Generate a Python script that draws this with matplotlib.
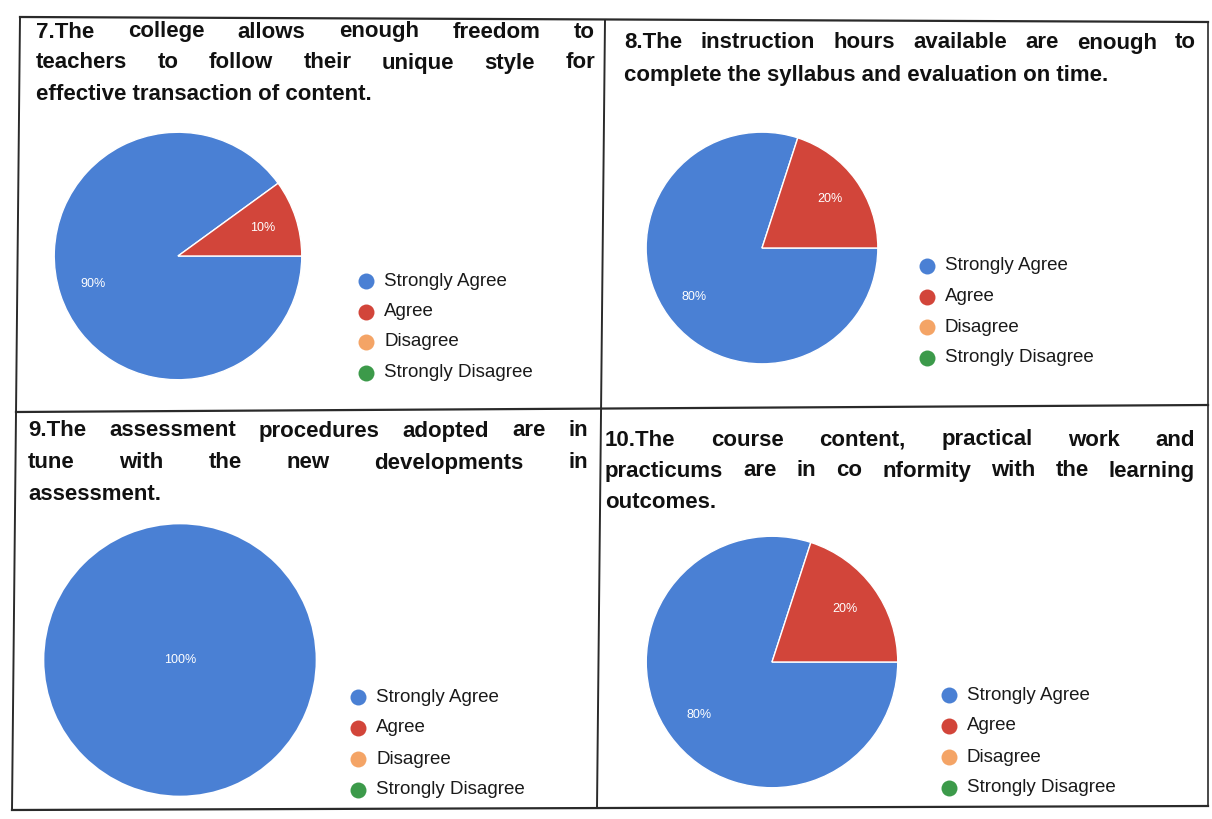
import matplotlib
matplotlib.use("Agg")
import matplotlib.pyplot as plt

W, H = 1212, 819

categories = ["Strongly Agree", "Agree", "Disagree", "Strongly Disagree"]
colors = ["#4a80d4", "#d2453a", "#f4a466", "#3c9a4a"]

q7_values = [90, 10, 0, 0]
q8_values = [80, 20, 0, 0]
q9_values = [100, 0, 0, 0]
q10_values = [80, 20, 0, 0]

q7_title = ["7.The college allows enough freedom to",
            "teachers to follow their unique style for",
            "effective transaction of content."]
q8_title = ["8.The instruction hours available are enough to",
            "complete the syllabus and evaluation on time."]
q9_title = ["9.The assessment procedures adopted are in",
            "tune with the new developments in",
            "assessment."]
q10_title = ["10.The course content, practical work and",
             "practicums are in co nformity with the learning",
             "outcomes."]

panels = [
    dict(values=q7_values, title=q7_title, tx=(36, 595), ty=32, tstep=31,
         pie=(178, 256, 125), pctd=0.72, lx=366, ly=281, lstep=30.5),
    dict(values=q8_values, title=q8_title, tx=(624, 1196), ty=43, tstep=32,
         pie=(762, 248, 117), pctd=0.72, lx=927, ly=266, lstep=30.5),
    dict(values=q9_values, title=q9_title, tx=(28, 588), ty=431, tstep=32,
         pie=(180, 660, 137), pctd=0.0, lx=358, ly=697, lstep=31),
    dict(values=q10_values, title=q10_title, tx=(605, 1195), ty=440, tstep=31,
         pie=(772, 662, 127), pctd=0.72, lx=949, ly=695, lstep=31),
]

fig = plt.figure(figsize=(W / 100, H / 100), dpi=100)
fig.patch.set_facecolor("white")
base = fig.add_axes([0, 0, 1, 1])
base.set_xlim(0, W)
base.set_ylim(H, 0)
base.axis("off")

lc = "#2a2a2a"
base.plot([20, 1208], [17, 22], color=lc, lw=1.6)
base.plot([16, 1208], [412, 405], color=lc, lw=1.6)
base.plot([12, 1208], [810, 806], color=lc, lw=1.6)
base.plot([20, 12], [17, 810], color=lc, lw=1.4)
base.plot([605, 597], [20, 808], color=lc, lw=1.4)
base.plot([1208, 1208], [22, 806], color=lc, lw=1.2)

fig.canvas.draw()
renderer = fig.canvas.get_renderer()

tfont = dict(family="Liberation Sans", fontweight="bold", fontsize=16, color="#111111")


def draw_justified(lines, x0, x1, y0, step):
    for i, line in enumerate(lines):
        y = y0 + i * step
        words = line.split(" ")
        last = i == len(lines) - 1
        if last or len(words) == 1:
            base.text(x0, y, line, ha="left", va="center", **tfont)
            continue
        arts = []
        widths = []
        for w in words:
            t = base.text(0, y, w, ha="left", va="center", **tfont)
            bb = t.get_window_extent(renderer)
            arts.append(t)
            widths.append(bb.width)
        gap = (x1 - x0 - sum(widths)) / (len(words) - 1)
        x = x0
        for t, wd in zip(arts, widths):
            t.set_x(x)
            x += wd + gap


for p in panels:
    draw_justified(p["title"], p["tx"][0], p["tx"][1], p["ty"], p["tstep"])
    cx, cy, r = p["pie"]
    ax = fig.add_axes([(cx - r) / W, 1 - (cy + r) / H, 2 * r / W, 2 * r / H])
    vals = p["values"]
    nz = [(v, c) for v, c in zip(vals, colors) if v > 0]
    ax.pie(
        [v for v, _ in nz], colors=[c for _, c in nz], startangle=0, counterclock=False,
        autopct=lambda v: f"{v:.0f}%",
        pctdistance=p["pctd"],
        wedgeprops=dict(edgecolor="white", linewidth=1.0 if len(nz) > 1 else 0),
        textprops=dict(color="white", fontsize=9, family="Liberation Sans"))
    ax.set_xlim(-1.01, 1.01)
    ax.set_ylim(-1.01, 1.01)
    ax.set_aspect("equal")
    ax.axis("off")
    for i, (cat, col) in enumerate(zip(categories, colors)):
        y = p["ly"] + i * p["lstep"]
        base.plot(p["lx"], y, "o", color=col, markersize=11.5, markeredgewidth=0)
        base.text(p["lx"] + 18, y, cat, ha="left", va="center",
                  fontsize=13.5, family="Liberation Sans", color="#1a1a1a")

fig.savefig("out.png", dpi=100, facecolor="white")
